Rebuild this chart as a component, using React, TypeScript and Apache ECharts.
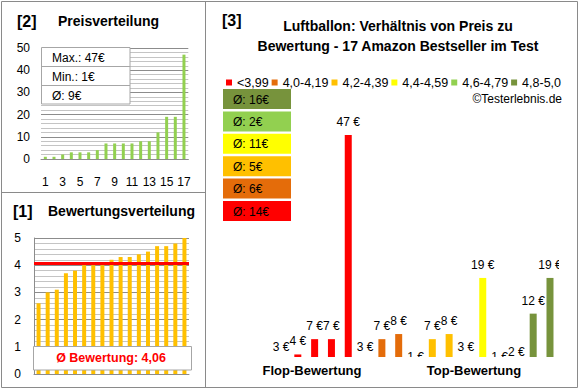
import React, { useEffect, useRef } from "react";
import * as echarts from "echarts";

// ---- data ----
const productNumbers = ["1","2","3","4","5","6","7","8","9","10","11","12","13","14","15","16","17"];
const sortedPrices = [1, 1, 2, 3, 3, 3, 4, 7, 7, 7, 7, 8, 8, 12, 19, 19, 47];
const ratings = [2.6, 3.0, 3.1, 3.7, 3.8, 4.0, 4.0, 4.0, 4.2, 4.3, 4.3, 4.4, 4.5, 4.7, 4.7, 4.8, 5.0];
const pricesByRating = [3, 4, 7, 7, 47, 3, 7, 8, 1, 7, 8, 3, 19, 1, 2, 12, 19];
const groupNames = ["<3,99", "4,0-4,19", "4,2-4,39", "4,4-4,59", "4,6-4,79", "4,8-5,0"];
const groupLower = [0, 4.0, 4.2, 4.4, 4.6, 4.8];
const groupColors = ["#FF0000", "#E46C0A", "#FFC000", "#FFFF00", "#92D050", "#77933C"];
const priceAxis = { min: 0, max: 50, interval: 10 };
const ratingAxis = { min: 0, max: 5, interval: 1 };
const sideLabels = ["Flop-Bewertung", "Top-Bewertung"];

const FONT = "'Liberation Sans', Arial, sans-serif";
const BORDER = "#8a8a8a";
const GRID_MAJOR = "#8c8c8c";
const GRID_MINOR = "#c4c4c4";

function groupOf(r: number): number {
  let g = 0;
  for (let j = 0; j < groupLower.length; j++) if (r >= groupLower[j] - 1e-9) g = j;
  return g;
}

export default function App() {
  const ref = useRef<HTMLDivElement>(null);
  useEffect(() => {
    if (!ref.current) return;
    const chart = echarts.init(ref.current, null, { renderer: "svg" });

    const maxP = Math.max(...sortedPrices);
    const minP = Math.min(...sortedPrices);
    const avgP = Math.round(sortedPrices.reduce((a, b) => a + b, 0) / sortedPrices.length);
    const avgR = ratings.reduce((a, b) => a + b, 0) / ratings.length;
    const avgRText = avgR.toFixed(2).replace(".", ",");

    const groups = ratings.map(groupOf);
    const groupAvg = groupNames.map((_, g) => {
      const vals = pricesByRating.filter((_, i) => groups[i] === g);
      return Math.round(vals.reduce((a, b) => a + b, 0) / vals.length);
    });

    const txt = (text: string, x: number, y: number, o: any = {}) => ({
      type: "text",
      x,
      y,
      z: 60,
      style: {
        text,
        fill: o.fill || "#000",
        fontSize: o.size || 12,
        fontWeight: o.weight || "normal",
        fontFamily: FONT,
        align: o.align || "left",
        verticalAlign: "middle",
      },
    });

    const graphics: any[] = [
      { type: "rect", z: 40, shape: { x: 1.5, y: 1.5, width: 576, height: 386 }, style: { fill: "none", stroke: BORDER, lineWidth: 1 } },
      { type: "line", z: 40, shape: { x1: 205.5, y1: 1.5, x2: 205.5, y2: 387.5 }, style: { stroke: BORDER, lineWidth: 1 } },
      { type: "line", z: 40, shape: { x1: 1.5, y1: 192.5, x2: 205.5, y2: 192.5 }, style: { stroke: BORDER, lineWidth: 1 } },
      // panel 2
      txt("[2]", 17, 21.5, { size: 16, weight: "bold" }),
      txt("Preisverteilung", 58, 21, { size: 14, weight: "bold" }),
      { type: "rect", z: 50, shape: { x: 41.5, y: 47.5, width: 88.5, height: 56.5 }, style: { fill: "#fff", stroke: "#a6a6a6", lineWidth: 1 } },
      { type: "line", z: 51, shape: { x1: 41.5, y1: 66.5, x2: 130, y2: 66.5 }, style: { stroke: "#a6a6a6", lineWidth: 1 } },
      { type: "line", z: 51, shape: { x1: 41.5, y1: 85.5, x2: 130, y2: 85.5 }, style: { stroke: "#a6a6a6", lineWidth: 1 } },
      txt(`Max.: ${maxP}€`, 52, 58, { size: 12 }),
      txt(`Min.: ${minP}€`, 52, 77, { size: 12 }),
      txt(`Ø: ${avgP}€`, 52, 95.5, { size: 12 }),
      // panel 1
      txt("[1]", 13, 211, { size: 16, weight: "bold" }),
      txt("Bewertungsverteilung", 48, 211, { size: 14, weight: "bold" }),
      { type: "rect", z: 50, shape: { x: 33.5, y: 346.5, width: 158, height: 23.5 }, style: { fill: "#fff", stroke: "#a6a6a6", lineWidth: 1 } },
      txt(`Ø Bewertung: ${avgRText}`, 111, 358, { size: 12.5, weight: "bold", fill: "#FF0000", align: "center" }),
      // panel 3
      txt("[3]", 222, 20.5, { size: 16, weight: "bold" }),
      txt("Luftballon: Verhältnis von Preis zu", 398, 26, { size: 14, weight: "bold", align: "center" }),
      txt("Bewertung - 17 Amazon Bestseller im Test", 398, 46, { size: 14, weight: "bold", align: "center" }),
      txt("©Testerlebnis.de", 562, 98.5, { size: 12, align: "right" }),
      txt(sideLabels[0], 312, 370.5, { size: 13, weight: "bold", align: "center" }),
      txt(sideLabels[1], 474, 370.5, { size: 13, weight: "bold", align: "center" }),
    ];

    // average boxes, top: best group
    const order = groupNames.map((_, g) => g).reverse();
    order.forEach((g, k) => {
      const y = 89 + k * 22.4;
      graphics.push({ type: "rect", z: 50, shape: { x: 223, y, width: 68, height: 20 }, style: { fill: groupColors[g] } });
      graphics.push(txt(`Ø: ${groupAvg[g]}€`, 233, y + 10.5, { size: 12 }));
    });

    const barSeries = groupNames.map((name, g) => ({
      name,
      type: "bar",
      xAxisIndex: 2,
      yAxisIndex: 2,
      barWidth: 7,
      barGap: "-100%",
      clip: true,
      itemStyle: { color: groupColors[g] },
      data: pricesByRating.map((v, i) => (groups[i] === g ? v : "-")),
    }));

    const option: any = {
      animation: false,
      textStyle: { fontFamily: FONT },
      legend: {
        data: groupNames.map((n) => ({ name: n, icon: "rect" })),
        left: 221,
        top: 71,
        itemWidth: 6,
        itemHeight: 6,
        itemGap: 3,
        selectedMode: false,
        textStyle: { fontSize: 12.5, color: "#000", fontFamily: FONT },
      },
      grid: [
        { left: 41, top: 48, width: 147.3, height: 111, containLabel: false },
        { left: 34, top: 238, width: 155, height: 136, containLabel: false },
        { left: 272.6, top: 94.3, width: 285.8, height: 262.7, containLabel: false },
      ],
      xAxis: [
        {
          gridIndex: 0,
          type: "category",
          data: productNumbers,
          axisLine: { lineStyle: { color: GRID_MAJOR } },
          axisTick: { show: false },
          axisLabel: { interval: 1, margin: 17, color: "#000", fontSize: 12, fontFamily: FONT },
        },
        {
          gridIndex: 1,
          type: "category",
          data: productNumbers,
          axisLine: { lineStyle: { color: GRID_MAJOR } },
          axisTick: { show: false },
          axisLabel: { show: false },
        },
        { gridIndex: 2, type: "category", data: productNumbers, show: false },
      ],
      yAxis: [
        {
          gridIndex: 0,
          type: "value",
          min: priceAxis.min,
          max: priceAxis.max,
          interval: priceAxis.interval,
          axisLine: { show: false },
          axisTick: { show: false },
          axisLabel: { margin: 11, color: "#000", fontSize: 12, fontFamily: FONT },
          splitLine: { lineStyle: { color: GRID_MAJOR } },
          minorTick: { show: false, splitNumber: 5 },
          minorSplitLine: { show: true, lineStyle: { color: GRID_MINOR } },
        },
        {
          gridIndex: 1,
          type: "value",
          min: ratingAxis.min,
          max: ratingAxis.max,
          interval: ratingAxis.interval,
          axisLine: { show: true, lineStyle: { color: GRID_MAJOR } },
          axisTick: { show: false },
          axisLabel: { margin: 13, color: "#000", fontSize: 12, fontFamily: FONT },
          splitLine: { lineStyle: { color: GRID_MAJOR } },
          minorTick: { show: false, splitNumber: 5 },
          minorSplitLine: { show: true, lineStyle: { color: GRID_MINOR } },
        },
        { gridIndex: 2, type: "value", min: 3.5, max: 55, show: false },
      ],
      series: [
        {
          type: "bar",
          xAxisIndex: 0,
          yAxisIndex: 0,
          barWidth: 3,
          itemStyle: { color: "#92D050" },
          data: sortedPrices,
        },
        {
          type: "bar",
          xAxisIndex: 1,
          yAxisIndex: 1,
          barWidth: 4,
          itemStyle: { color: "#FFC000" },
          data: ratings,
          markLine: {
            silent: true,
            symbol: "none",
            label: { show: false },
            lineStyle: { color: "#FF0000", width: 3, type: "solid" },
            data: [{ yAxis: avgR }],
          },
        },
        ...barSeries,
        {
          type: "custom",
          xAxisIndex: 2,
          yAxisIndex: 2,
          clip: true,
          z: 5,
          data: pricesByRating.map((v, i) => [i, v]),
          renderItem: (params: any, api: any) => {
            const v = api.value(1);
            const pt = api.coord([api.value(0), v]);
            return {
              type: "text",
              x: pt[0],
              y: pt[1] - 7,
              style: {
                text: `${v} €`,
                align: "center",
                verticalAlign: "bottom",
                fill: "#000",
                fontSize: 12,
                fontFamily: FONT,
              },
            };
          },
        },
      ],
      graphic: { elements: graphics },
    };

    chart.setOption(option);
    return () => chart.dispose();
  }, []);

  return (
    <div
      ref={ref}
      style={{ position: "fixed", left: 0, top: 0, width: 580, height: 390, background: "#fff" }}
    />
  );
}
